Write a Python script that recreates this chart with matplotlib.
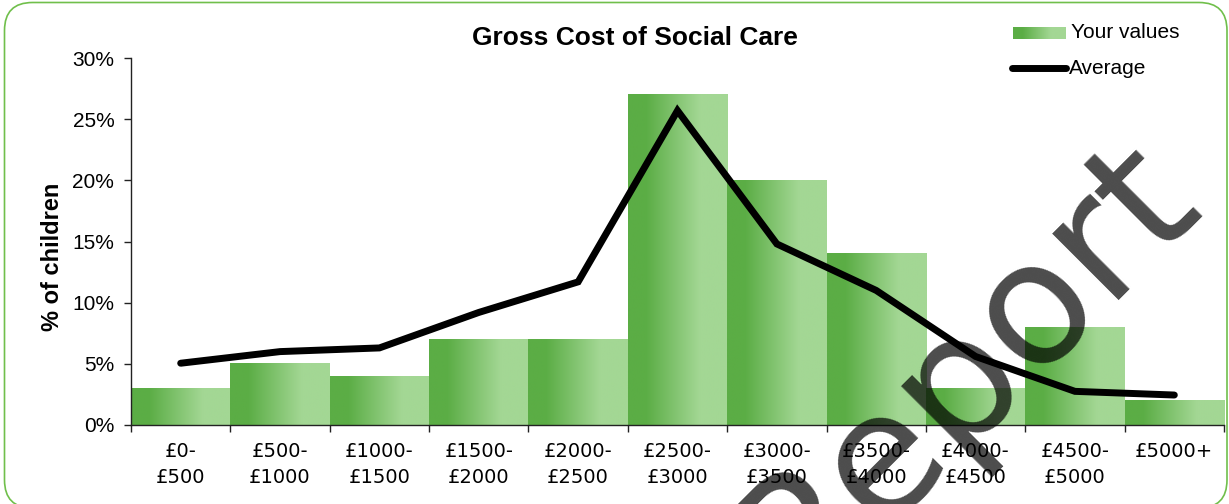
import numpy as np
import matplotlib.pyplot as plt
from matplotlib.colors import LinearSegmentedColormap
from matplotlib.patches import FancyBboxPatch
from matplotlib.lines import Line2D
from matplotlib.transforms import IdentityTransform

categories = ['£0-\n£500', '£500-\n£1000', '£1000-\n£1500', '£1500-\n£2000',
              '£2000-\n£2500', '£2500-\n£3000', '£3000-\n£3500', '£3500-\n£4000',
              '£4000-\n£4500', '£4500-\n£5000', '£5000+']
your_values = [3, 5, 4, 7, 7, 27, 20, 14, 3, 8, 2]
average = [5.05, 6.0, 6.3, 9.2, 11.7, 25.7, 14.8, 11.0, 5.6, 2.75, 2.45]
y_ticks = [0, 5, 10, 15, 20, 25, 30]

W, H = 1229, 504
fig = plt.figure(figsize=(W / 100, H / 100), dpi=100)

# rounded green frame round the whole chart (display pixels, origin bottom-left)
fig.add_artist(FancyBboxPatch((4.5, -4), 1227 - 4.5, H - 2.5 + 4,
                              boxstyle='round,pad=0,rounding_size=28',
                              fill=False, ec='#70bf4b', lw=1.2,
                              transform=IdentityTransform(), zorder=0))

ax = fig.add_axes([131 / W, 1 - 425 / H, (1224 - 131) / W, (425 - 58) / H])
ax.patch.set_alpha(0)

cmap = LinearSegmentedColormap.from_list(
    'g', [(0, '#5bad45'), (0.18, '#5bad45'), (0.72, '#a3d794'), (1, '#a3d794')])
grad = np.linspace(0, 1, 256).reshape(1, -1)

x = np.arange(len(categories))
for xi, v in zip(x, your_values):  # gradient bars
    ax.imshow(grad, cmap=cmap, extent=(xi - 0.5, xi + 0.5, 0, v),
              aspect='auto', zorder=2, interpolation='bilinear')

ax.plot(x, average, color='black', lw=5, solid_capstyle='round',
        solid_joinstyle='miter', zorder=3)

ax.set_xlim(-0.5, len(categories) - 0.5)
ax.set_ylim(0, 30)

for s in ['top', 'right']:
    ax.spines[s].set_visible(False)
for s in ['left', 'bottom']:
    ax.spines[s].set_color('#222222')
    ax.spines[s].set_linewidth(1)

ax.set_yticks(y_ticks)
ax.set_yticklabels([f'{t}%' for t in y_ticks], family='Liberation Sans', fontsize=15)
ax.tick_params(axis='y', length=5, width=1, pad=7, color='#222222')

ax.set_xticks(np.arange(len(categories) + 1) - 0.5)
ax.set_xticklabels([])
ax.set_xticks(x, minor=True)
ax.set_xticklabels(categories, minor=True, family='DejaVu Sans', fontsize=14,
                   linespacing=1.5)
ax.tick_params(axis='x', which='major', length=5, width=1, color='#222222')
ax.tick_params(axis='x', which='minor', length=0, pad=12)

ax.set_ylabel('% of children', family='Liberation Sans', fontsize=17,
              fontweight='bold', va='center')
ax.yaxis.set_label_coords(-0.072, 0.458)

fig.text(635 / W, 1 - 38 / H, 'Gross Cost of Social Care', family='Liberation Sans',
         fontsize=19, fontweight='bold', ha='center', va='center')

# legend drawn by hand
lax = fig.add_axes([1013 / W, 1 - 39 / H, 53 / W, 12 / H])
lax.imshow(grad, cmap=cmap, aspect='auto', interpolation='bilinear')
lax.axis('off')
fig.text(1071 / W, 1 - 32 / H, 'Your values', family='Liberation Sans',
         fontsize=15, ha='left', va='center')
fig.add_artist(Line2D([1012 / W, 1066 / W], [1 - 68 / H, 1 - 68 / H], color='black',
                      lw=5, solid_capstyle='round', transform=fig.transFigure))
fig.text(1069 / W, 1 - 69 / H, 'Average', family='Liberation Sans',
         fontsize=15, ha='left', va='center')

# watermark
fig.text(966 / W, 1 - 370 / H, 'Report', family='DejaVu Sans', fontsize=124,
         rotation=45, rotation_mode='anchor', ha='center', va='center',
         color='black', alpha=0.7, zorder=10)

fig.savefig('out.png', dpi=100)
